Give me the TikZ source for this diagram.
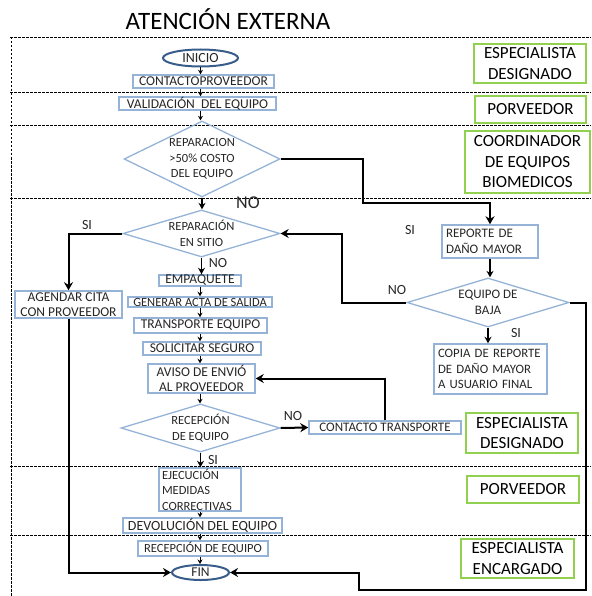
\documentclass[tikz,border=0pt]{standalone}
\usepackage{fontspec}
\setmainfont{Carlito}
\usetikzlibrary{shapes.geometric,arrows.meta}

\definecolor{boxblue}{HTML}{95B3D7}
\definecolor{ovalblue}{HTML}{385D8A}
\definecolor{rolegreen}{HTML}{92D050}
\definecolor{txt}{HTML}{262626}

\tikzset{
  fs/.style={font=\fontsize{#1}{15.5}\selectfont},
  box/.style={draw=boxblue, line width=1.5pt, rectangle, inner sep=0pt, text=txt, align=center, fs=13.5},
  lbox/.style={box, align=left},
  oval/.style={draw=ovalblue, ellipse, line width=2pt, inner sep=0pt, text=txt, fs=14},
  dia/.style={draw=boxblue, diamond, line width=1.3pt, inner sep=0pt},
  dtext/.style={text=txt, align=center, fs=12.5, inner sep=0pt},
  role/.style={draw=rolegreen, line width=2.4pt, inner sep=0pt, align=center, text=black, font=\fontsize{17}{20.5}\selectfont},
  lane/.style={dash pattern=on 2.5pt off 1.5pt, line width=0.6pt},
  link/.style={-{Stealth[length=4.5pt,width=5pt]}, line width=1pt},
  blink/.style={-{Stealth[length=6.5pt,width=7pt]}, line width=1.6pt},
  conn/.style={-{Stealth[length=8pt,width=9pt]}, line width=2pt},
  lbl/.style={fs=14, text=txt, inner sep=0pt}
}

\begin{document}
\begin{tikzpicture}[x=1pt,y=-1pt]
\useasboundingbox (0,0) rectangle (591,596);

% title
\node[font=\fontsize{25}{29}\selectfont, text=black] (title) at (228,19) {ATENCIÓN EXTERNA};

% swim-lane separators
\foreach \yy in {37,92,125,198,466,535}
  \draw[lane] (10,\yy) -- (591,\yy);
\draw[lane] (11,37) -- (11,596);

% responsible roles
\node[role, minimum width=112, minimum height=39] (r1) at (530,63.5) {ESPECIALISTA\\DESIGNADO};
\node[role, minimum width=111, minimum height=27] (r2) at (530.5,109.5) {PORVEEDOR};
\node[role, minimum width=125, minimum height=62] (r3) at (527.5,162) {COORDINADOR\\DE EQUIPOS\\BIOMEDICOS};
\node[role, minimum width=112, minimum height=40] (r4) at (522,433) {ESPECIALISTA\\DESIGNADO};
\node[role, minimum width=112, minimum height=27] (r5) at (523,489.5) {PORVEEDOR};
\node[role, minimum width=113, minimum height=39] (r6) at (517.5,558.5) {ESPECIALISTA\\ENCARGADO};

% main column
\node[oval, minimum width=75, minimum height=17] (ini) at (200.5,58) {INICIO};
\node[box, minimum width=141, minimum height=13] (cp) at (203.5,81.5) {CONTACTOPROVEEDOR};
\node[box, minimum width=157, minimum height=13] (val) at (197.5,103.5) {VALIDACIÓN\ \ DEL EQUIPO};
\node[dia, minimum width=156, minimum height=76] (d1) at (202,159) {};
\node[dtext] (d1t) at (d1) {REPARACION\\>50\% COSTO\\DEL EQUIPO};
\node[dia, minimum width=157, minimum height=47] (d2) at (201.5,233.5) {};
\node[dtext] (d2t) at (d2) {REPARACIÓN\\EN SITIO};
\node[box, minimum width=82, minimum height=11] (emp) at (200,280.5) {EMPAQUETE};
\node[box, fs=12.5, minimum width=144, minimum height=10] (gen) at (200,302) {GENERAR ACTA DE SALIDA};
\node[box, minimum width=133, minimum height=15] (tra) at (200.5,325.5) {TRANSPORTE EQUIPO};
\node[box, minimum width=118, minimum height=13] (sol) at (202,348.5) {SOLICITAR SEGURO};
\node[box, minimum width=107, minimum height=29] (avi) at (201.5,378.5) {AVISO DE ENVIÓ\\AL PROVEEDOR};
\node[dia, minimum width=159, minimum height=48] (d3) at (200.5,428) {};
\node[dtext] (d3t) at (d3) {RECEPCIÓN\\DE EQUIPO};
\node[box, fs=13, minimum width=152, minimum height=13] (ct) at (385,427.5) {CONTACTO TRANSPORTE};
\node[lbox, fs=12.5, minimum width=82, minimum height=43, text width=76] (eje) at (200,489.5) {EJECUCIÓN\\MEDIDAS\\CORRECTIVAS};
\node[box, fs=14, minimum width=159, minimum height=15] (dev) at (202.5,525.5) {DEVOLUCIÓN DEL EQUIPO};
\node[box, fs=12.5, minimum width=130, minimum height=15] (rec) at (203,548.5) {RECEPCIÓN DE EQUIPO};
\node[oval, fs=13.5, minimum width=57, minimum height=15] (fin) at (200.5,572.5) {FIN};

% side branches
\node[box, minimum width=107, minimum height=27] (age) at (68.5,304.5) {AGENDAR CITA\\CON PROVEEDOR};
\node[lbox, fs=13, minimum width=96, minimum height=33, text width=88] (rep) at (490,241.5) {REPORTE DE\\DAÑO MAYOR};
\node[dia, minimum width=162, minimum height=49] (d4) at (488,302.5) {};
\node[dtext, fs=13] (d4t) at (d4) {EQUIPO DE\\BAJA};
\node[lbox, fs=12.8, minimum width=113, minimum height=50, text width=105] (cop) at (490.5,369) {COPIA DE REPORTE\\DE DAÑO MAYOR\\A USUARIO FINAL};

% straight flow
\draw[link] (ini.south) -- (ini.south |- cp.north);
\draw[link] (cp.south -| ini.south) -- (ini.south |- val.north);
\draw[link] (val.south -| ini.south) -- (ini.south |- d1.north);
\draw[blink] (d1.south) -- (d1.south |- d2.north);
\draw[blink] (d2.south) -- (d2.south |- emp.north);
\draw[link] (emp.south) -- (emp.south |- gen.north);
\draw[link] (gen.south) -- (gen.south |- tra.north);
\draw[link] (tra.south -| gen.south) -- (gen.south |- sol.north);
\draw[link] (sol.south -| gen.south) -- (gen.south |- avi.north);
\draw[link] (avi.south -| gen.south) -- (gen.south |- d3.north);
\draw[blink] (d3.south) -- (d3.south |- eje.north);
\draw[link] (eje.south) -- (eje.south |- dev.north);
\draw[link] (dev.south -| eje.south) -- (eje.south |- rec.north);
\draw[link] (rec.south -| eje.south) -- (eje.south |- fin.north);
\draw[blink] (rep.south) -- (rep.south |- d4.north);
\draw[blink] (d4.south) -- (d4.south |- cop.north);

% branching connectors
\draw[conn] (d2.west) -| (age.north);
\draw[conn] (age.south) |- (fin.west);
\draw[conn] (d1.east) -| (363,203) -| (rep.north);
\draw[conn] (d4.west) -- ++(-64,0) |- (d2.east);
\draw[conn] (d4.east) -- ++(16,0) |- (359,590) |- (fin.east);
\draw[conn] (d3.east) -- (ct.west);
\draw[conn] (ct.north) |- (avi.east);

% branch labels
\node[lbl, fs=18] (no1) at (248,203) {NO};
\node[lbl] (si1) at (87,225) {SI};
\node[lbl] (no2) at (218,263) {NO};
\node[lbl] (si2) at (410,230) {SI};
\node[lbl] (no3) at (397,290) {NO};
\node[lbl] (si3) at (516,333) {SI};
\node[lbl] (no4) at (293,416) {NO};
\node[lbl] (si4) at (213,460) {SI};
\end{tikzpicture}
\end{document}
